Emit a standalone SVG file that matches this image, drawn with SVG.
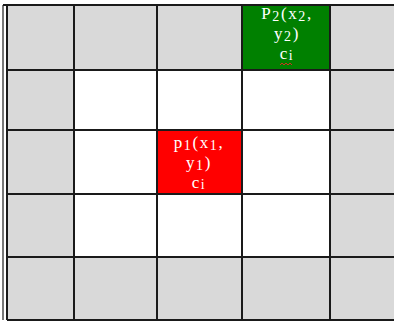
<svg xmlns="http://www.w3.org/2000/svg" width="394" height="322" viewBox="0 0 394 322">
<style>
.g{fill:#d9d9d9}
.w{fill:#ffffff}
.ln{stroke:#1a1a1a;stroke-width:2;fill:none}
.t{font-family:"Liberation Serif","DejaVu Serif",serif;font-size:17px;letter-spacing:1.6px;fill:#ffffff;text-anchor:middle}
.s{font-size:14px}
</style>
<rect x="0" y="0" width="394" height="322" fill="#ffffff"/>
<g id="background">
<rect class="g" x="7" y="6" width="387" height="314"/>
<rect class="w" x="74" y="70" width="256" height="187"/>
</g>
<g id="cell-p1">
<rect x="157" y="130" width="85" height="64" fill="#ff0000"/>
<text class="t" x="199" y="148">p<tspan class="s" dy="2">1</tspan><tspan dy="-2">(x</tspan><tspan class="s" dy="2">1</tspan><tspan dy="-2">,</tspan></text>
<text class="t" x="199" y="168">y<tspan class="s" dy="2">1</tspan><tspan dy="-2">)</tspan></text>
<text class="t" x="199" y="188">c<tspan class="s" dy="1">i</tspan></text>
</g>
<g id="cell-p2">
<rect x="242" y="6" width="88" height="64" fill="#008000"/>
<text class="t" x="287" y="19">P<tspan class="s" dy="2">2</tspan><tspan dy="-2">(x</tspan><tspan class="s" dy="2">2</tspan><tspan dy="-2">,</tspan></text>
<text class="t" x="287" y="39">y<tspan class="s" dy="2">2</tspan><tspan dy="-2">)</tspan></text>
<text class="t" x="287" y="59">c<tspan class="s" dy="1">i</tspan></text>
<path d="M280,65 l2,-2 l2,2 l2,-2 l2,2 l2,-2 l2,2" stroke="#d03020" stroke-width="1" fill="none"/>
</g>
<g id="grid">
<line class="ln" x1="3" y1="5" x2="3" y2="320" stroke-width="1" style="stroke:#777"/>
<line class="ln" x1="7" y1="5" x2="7" y2="320"/>
<line class="ln" x1="74" y1="6" x2="74" y2="320"/>
<line class="ln" x1="157" y1="6" x2="157" y2="320"/>
<line class="ln" x1="242" y1="6" x2="242" y2="320"/>
<line class="ln" x1="330" y1="6" x2="330" y2="320"/>
<line class="ln" x1="3" y1="5" x2="394" y2="5"/>
<line class="ln" x1="7" y1="70" x2="394" y2="70"/>
<line class="ln" x1="7" y1="130" x2="394" y2="130"/>
<line class="ln" x1="7" y1="194" x2="394" y2="194"/>
<line class="ln" x1="7" y1="257" x2="394" y2="257"/>
<line class="ln" x1="7" y1="320" x2="394" y2="320"/>
</g>
</svg>
